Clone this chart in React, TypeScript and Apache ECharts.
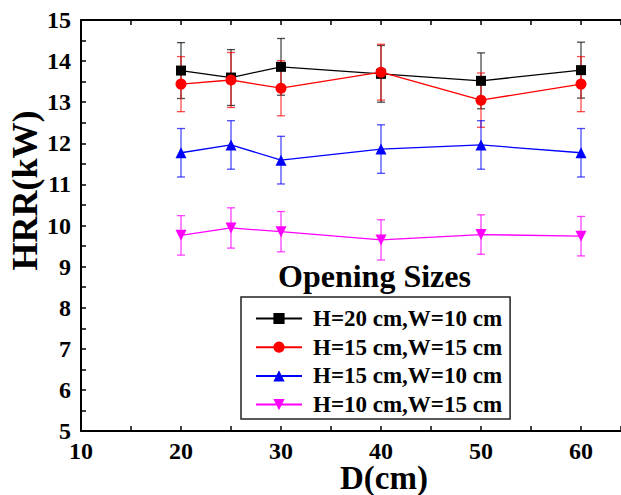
import React, { useEffect, useRef } from 'react';
import * as echarts from 'echarts';

const distances = [20, 25, 30, 40, 50, 60];
const seriesNames = ['H=20 cm,W=10 cm', 'H=15 cm,W=15 cm', 'H=15 cm,W=10 cm', 'H=10 cm,W=15 cm'];
const hrrH20W10 = [13.77, 13.6, 13.86, 13.69, 13.52, 13.78];
const hrrH15W15 = [13.44, 13.54, 13.34, 13.73, 13.05, 13.44];
const hrrH15W10 = [11.77, 11.96, 11.59, 11.86, 11.96, 11.77];
const hrrH10W15 = [9.76, 9.94, 9.85, 9.65, 9.78, 9.74];
const errH20W10 = [0.68, 0.68, 0.69, 0.69, 0.68, 0.68];
const errH15W15 = [0.67, 0.67, 0.67, 0.68, 0.66, 0.67];
const errH15W10 = [0.59, 0.59, 0.58, 0.59, 0.59, 0.59];
const errH10W15 = [0.48, 0.49, 0.49, 0.49, 0.48, 0.48];

const FONT = 'Liberation Serif, Times New Roman, serif';

export default function App() {
  const ref = useRef<HTMLDivElement>(null);
  useEffect(() => {
    if (!ref.current) return;
    const chart = echarts.init(ref.current, undefined, { renderer: 'svg' });
    const values = [hrrH20W10, hrrH15W15, hrrH15W10, hrrH10W15];
    const errs = [errH20W10, errH15W15, errH15W10, errH10W15];
    const colors = ['#000000', '#ff0000', '#0000ff', '#ff00ff'];
    const errColors = ['rgba(0,0,0,0.7)', 'rgba(255,0,0,0.7)', 'rgba(0,0,255,0.7)', 'rgba(255,0,255,0.75)'];
    const symbols = ['rect', 'circle', 'triangle', 'triangle'];
    const rotates = [0, 0, 0, 180];
    const sizes = [10, 11, 11, 11];

    const errSeries = values.map((vals, i) => ({
      type: 'custom',
      name: 'err' + i,
      silent: true,
      z: 2,
      data: distances.map((d, j) => [d, vals[j] - errs[i][j], vals[j] + errs[i][j]]),
      encode: { x: 0, y: [1, 2] },
      renderItem: (params: any, api: any) => {
        const x = api.value(0);
        const lo = api.coord([x, api.value(1)]);
        const hi = api.coord([x, api.value(2)]);
        const hw = 4;
        const style = { stroke: errColors[i], lineWidth: 1.3, fill: 'none' };
        return {
          type: 'group',
          children: [
            { type: 'line', shape: { x1: lo[0], y1: lo[1], x2: hi[0], y2: hi[1] }, style },
            { type: 'line', shape: { x1: lo[0] - hw, y1: lo[1], x2: lo[0] + hw, y2: lo[1] }, style },
            { type: 'line', shape: { x1: hi[0] - hw, y1: hi[1], x2: hi[0] + hw, y2: hi[1] }, style },
          ],
        };
      },
    }));

    const lineSeries = values.map((vals, i) => ({
      type: 'line',
      name: seriesNames[i],
      z: 3 + i,
      data: distances.map((d, j) => [d, vals[j]]),
      symbol: symbols[i],
      symbolRotate: rotates[i],
      symbolSize: sizes[i],
      showAllSymbol: true,
      lineStyle: { color: colors[i], width: 1.3 },
      itemStyle: { color: colors[i] },
    }));

    chart.setOption({
      animation: false,
      backgroundColor: '#ffffff',
      textStyle: { fontFamily: FONT, fontWeight: 'bold', color: '#000' },
      grid: { left: 81, top: 20, right: 0, bottom: 64, containLabel: false, outerBoundsMode: 'none' },
      title: {
        text: 'Opening Sizes',
        left: 278,
        top: 260,
        padding: 0,
        textStyle: { fontFamily: FONT, fontWeight: 'bold', fontSize: 32, color: '#000' },
      },
      legend: {
        orient: 'vertical',
        left: 241,
        top: 297,
        padding: [10, 8, 3, 14],
        itemGap: 5.7,
        itemWidth: 46,
        itemHeight: 14,
        borderColor: '#222',
        borderWidth: 1.5,
        textStyle: { fontFamily: FONT, fontWeight: 'bold', fontSize: 23, color: '#000', lineHeight: 23, padding: [0, 0, 0, 6] },
        data: seriesNames,
      },
      xAxis: [
        {
          type: 'value',
          min: 10,
          max: 64,
          interval: 5,
          name: 'D(cm)',
          nameLocation: 'middle',
          nameGap: 33,
          nameMoveOverlap: false,
          nameTextStyle: { fontFamily: FONT, fontWeight: 'bold', fontSize: 33, lineHeight: 28, color: '#000', padding: [0, 0, 0, 66] },
          axisLine: { show: true, onZero: false, lineStyle: { color: '#000', width: 2 } },
          axisTick: { show: true, inside: true, length: 5, lineStyle: { color: '#000', width: 1.5 } },
          axisLabel: {
            fontFamily: FONT,
            fontWeight: 'bold',
            fontSize: 24,
            lineHeight: 20,
            color: '#000',
            margin: 10,
            formatter: (v: number) => (v % 10 === 0 ? String(v) : ''),
          },
          splitLine: { show: false },
        },
        {
          type: 'value',
          position: 'top',
          min: 10,
          max: 64,
          interval: 5,
          axisLine: { show: true, onZero: false, lineStyle: { color: '#000', width: 2 } },
          axisTick: { show: true, inside: true, length: 5, lineStyle: { color: '#000', width: 1.5 } },
          axisLabel: { show: false },
          splitLine: { show: false },
        },
      ],
      yAxis: {
        type: 'value',
        min: 5,
        max: 15,
        interval: 1,
        name: 'HRR(kW)',
        nameLocation: 'middle',
        nameGap: 38,
        nameMoveOverlap: false,
        nameTextStyle: { fontFamily: FONT, fontWeight: 'bold', fontSize: 36, color: '#000', padding: [0, 0, 0, 70] },
        axisLine: { show: true, onZero: false, lineStyle: { color: '#000', width: 2 } },
        axisTick: { show: true, inside: true, length: 5, lineStyle: { color: '#000', width: 1.5 } },
        minorTick: { show: true, splitNumber: 2, length: 5, lineStyle: { color: '#000', width: 1.5 } },
        axisLabel: { fontFamily: FONT, fontWeight: 'bold', fontSize: 24, color: '#000', margin: 10 },
        splitLine: { show: false },
      },
      series: [...errSeries, ...lineSeries],
    });
    return () => chart.dispose();
  }, []);
  return <div ref={ref} style={{ position: 'absolute', left: 0, top: 0, width: 621, height: 495 }} />;
}
